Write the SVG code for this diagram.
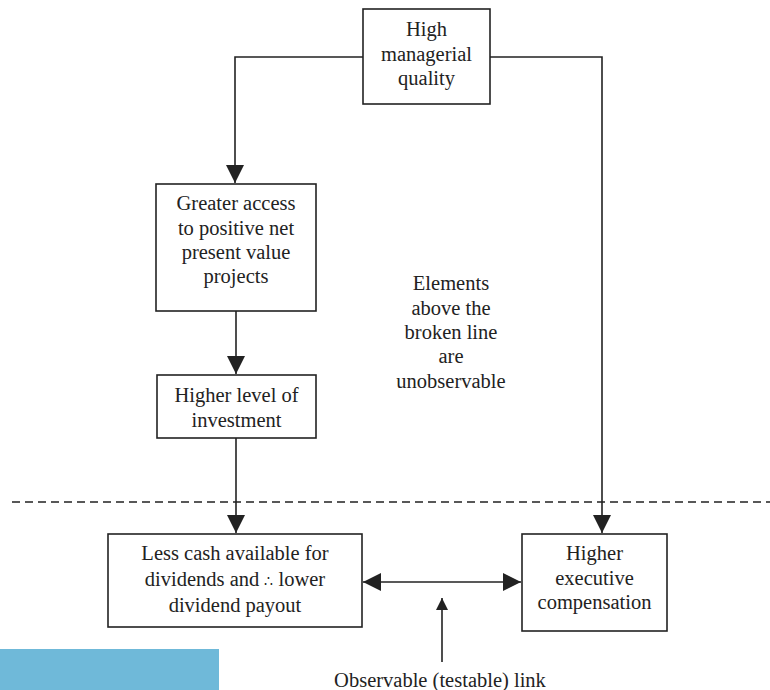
<svg xmlns="http://www.w3.org/2000/svg" width="770" height="690" viewBox="0 0 770 690">
<style>
.box{fill:#fff;stroke:#222;stroke-width:1.6}
.t{font-family:"Liberation Serif","Times New Roman",serif;font-size:20.5px;fill:#222;text-anchor:middle}
.c{fill:none;stroke:#222;stroke-width:1.6}
</style>
<defs>
<marker id="ah" markerUnits="userSpaceOnUse" markerWidth="18" markerHeight="18" refX="17" refY="8.5" orient="auto-start-reverse" viewBox="0 0 17 17">
<path d="M0,0 L17,8.5 L0,17 Z" fill="#222"/>
</marker>
<marker id="sh" markerUnits="userSpaceOnUse" markerWidth="12" markerHeight="12" refX="11" refY="5.5" orient="auto" viewBox="0 0 11 11">
<path d="M0,0 L11,5.5 L0,11 Z" fill="#222"/>
</marker>
</defs>
<rect x="0" y="649" width="219" height="41" fill="#6fb9d9"/>
<g id="connectors">
<path class="c" d="M363,57 H235 V183" marker-end="url(#ah)"/>
<path class="c" d="M490,57 H602 V533" marker-end="url(#ah)"/>
<path class="c" d="M236,311 V374" marker-end="url(#ah)"/>
<path class="c" d="M236,438 V533" marker-end="url(#ah)"/>
<path class="c" d="M363,582 H521" marker-start="url(#ah)" marker-end="url(#ah)"/>
<path class="c" d="M442,662 V598" marker-end="url(#sh)"/>
<line x1="12" y1="502" x2="770" y2="502" stroke="#222" stroke-width="1.4" stroke-dasharray="8,5"/>
</g>
<g id="n1"><rect class="box" x="363" y="9" width="127" height="95"/>
<text class="t" x="426.5" y="36">High</text><text class="t" x="426.5" y="61">managerial</text><text class="t" x="426.5" y="85">quality</text></g>
<g id="n2"><rect class="box" x="156" y="184" width="160" height="127"/>
<text class="t" x="236" y="210">Greater access</text><text class="t" x="236" y="235">to positive net</text><text class="t" x="236" y="259">present value</text><text class="t" x="236" y="283">projects</text></g>
<g id="n3"><rect class="box" x="157" y="375" width="159" height="63"/>
<text class="t" x="236.5" y="402">Higher level of</text><text class="t" x="236.5" y="427">investment</text></g>
<g id="n4"><rect class="box" x="108" y="534" width="254" height="93"/>
<text class="t" x="235" y="560">Less cash available for</text><text class="t" x="235" y="586">dividends and <tspan font-size="14px">∴</tspan> lower</text><text class="t" x="235" y="612">dividend payout</text></g>
<g id="n5"><rect class="box" x="522" y="534" width="145" height="97"/>
<text class="t" x="594.5" y="560">Higher</text><text class="t" x="594.5" y="585">executive</text><text class="t" x="594.5" y="609">compensation</text></g>
<g id="note"><text class="t" x="451" y="290">Elements</text><text class="t" x="451" y="315">above the</text><text class="t" x="451" y="339">broken line</text><text class="t" x="451" y="363">are</text><text class="t" x="451" y="388">unobservable</text></g>
<g id="label"><text class="t" x="440" y="687">Observable (testable) link</text></g>
</svg>
